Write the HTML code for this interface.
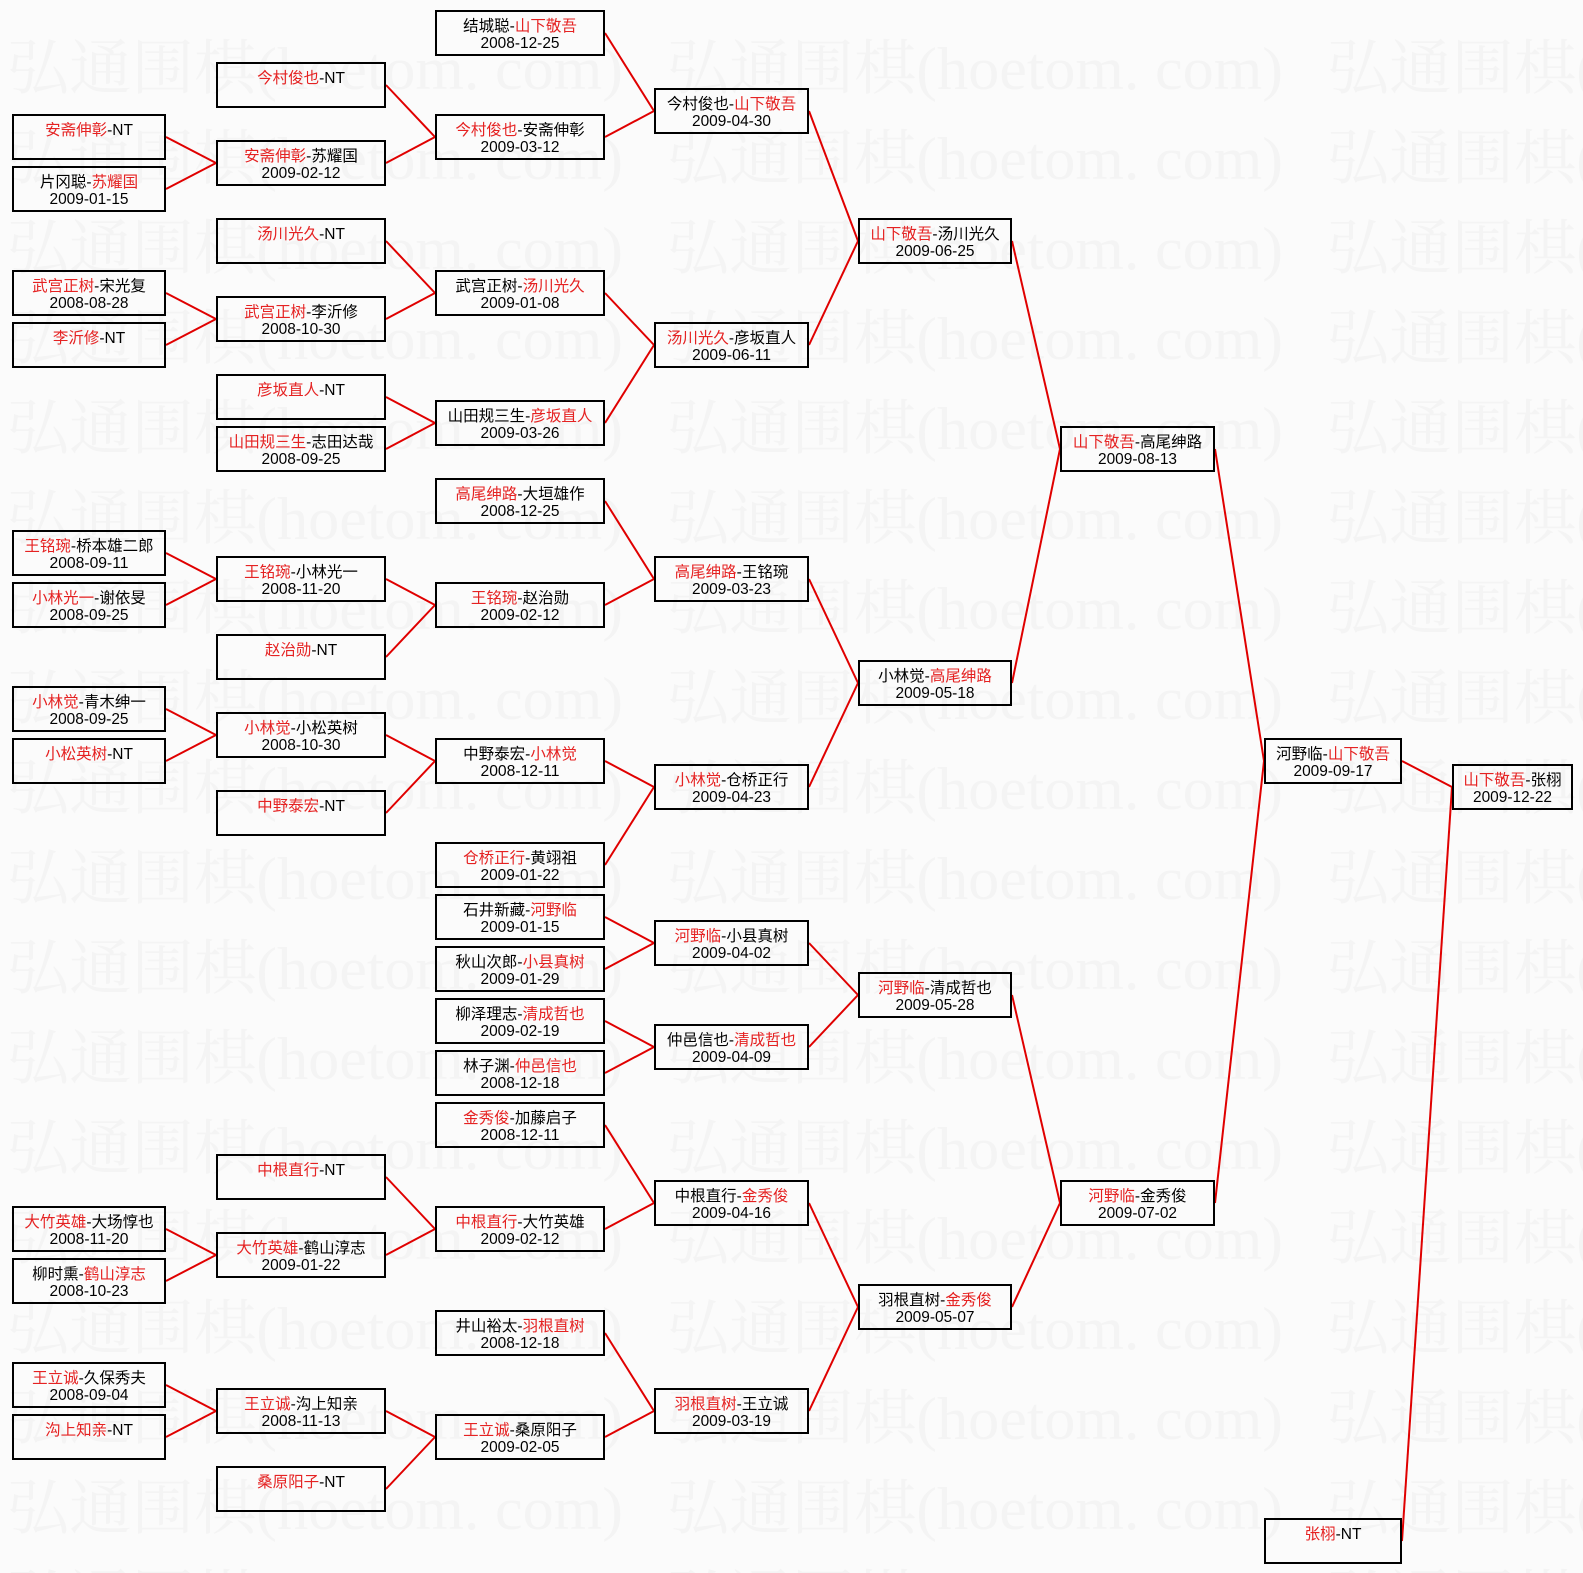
<!DOCTYPE html>
<html><head><meta charset="utf-8">
<style>
html,body{margin:0;padding:0;background:#fbfbfb;}
svg{display:block;}
.b{fill:none;stroke:#000;stroke-width:2;}
.l{stroke:#e00000;stroke-width:2;fill:none;}
.n{font-family:"Liberation Sans","Noto Sans CJK SC",sans-serif;font-size:15.5px;text-anchor:middle;fill:#000;}
.r{fill:#e52222;}
.d{font-family:"Liberation Sans",sans-serif;font-size:15.5px;text-anchor:middle;fill:#000;}
.w{font-family:"Liberation Serif","Noto Serif CJK SC",serif;font-size:60px;fill:#f4f4f4;}
</style></head>
<body>
<svg width="1583" height="1573" viewBox="0 0 1583 1573" xmlns="http://www.w3.org/2000/svg">
<rect x="0" y="0" width="1583" height="1573" fill="#fbfbfb"/>
<g class="w">
<text x="7" y="89" textLength="616" lengthAdjust="spacingAndGlyphs">弘通围棋(hoetom. com)</text><text x="667" y="89" textLength="616" lengthAdjust="spacingAndGlyphs">弘通围棋(hoetom. com)</text><text x="1327" y="89" textLength="616" lengthAdjust="spacingAndGlyphs">弘通围棋(hoetom. com)</text>
<text x="7" y="179" textLength="616" lengthAdjust="spacingAndGlyphs">弘通围棋(hoetom. com)</text><text x="667" y="179" textLength="616" lengthAdjust="spacingAndGlyphs">弘通围棋(hoetom. com)</text><text x="1327" y="179" textLength="616" lengthAdjust="spacingAndGlyphs">弘通围棋(hoetom. com)</text>
<text x="7" y="269" textLength="616" lengthAdjust="spacingAndGlyphs">弘通围棋(hoetom. com)</text><text x="667" y="269" textLength="616" lengthAdjust="spacingAndGlyphs">弘通围棋(hoetom. com)</text><text x="1327" y="269" textLength="616" lengthAdjust="spacingAndGlyphs">弘通围棋(hoetom. com)</text>
<text x="7" y="359" textLength="616" lengthAdjust="spacingAndGlyphs">弘通围棋(hoetom. com)</text><text x="667" y="359" textLength="616" lengthAdjust="spacingAndGlyphs">弘通围棋(hoetom. com)</text><text x="1327" y="359" textLength="616" lengthAdjust="spacingAndGlyphs">弘通围棋(hoetom. com)</text>
<text x="7" y="449" textLength="616" lengthAdjust="spacingAndGlyphs">弘通围棋(hoetom. com)</text><text x="667" y="449" textLength="616" lengthAdjust="spacingAndGlyphs">弘通围棋(hoetom. com)</text><text x="1327" y="449" textLength="616" lengthAdjust="spacingAndGlyphs">弘通围棋(hoetom. com)</text>
<text x="7" y="539" textLength="616" lengthAdjust="spacingAndGlyphs">弘通围棋(hoetom. com)</text><text x="667" y="539" textLength="616" lengthAdjust="spacingAndGlyphs">弘通围棋(hoetom. com)</text><text x="1327" y="539" textLength="616" lengthAdjust="spacingAndGlyphs">弘通围棋(hoetom. com)</text>
<text x="7" y="629" textLength="616" lengthAdjust="spacingAndGlyphs">弘通围棋(hoetom. com)</text><text x="667" y="629" textLength="616" lengthAdjust="spacingAndGlyphs">弘通围棋(hoetom. com)</text><text x="1327" y="629" textLength="616" lengthAdjust="spacingAndGlyphs">弘通围棋(hoetom. com)</text>
<text x="7" y="719" textLength="616" lengthAdjust="spacingAndGlyphs">弘通围棋(hoetom. com)</text><text x="667" y="719" textLength="616" lengthAdjust="spacingAndGlyphs">弘通围棋(hoetom. com)</text><text x="1327" y="719" textLength="616" lengthAdjust="spacingAndGlyphs">弘通围棋(hoetom. com)</text>
<text x="7" y="809" textLength="616" lengthAdjust="spacingAndGlyphs">弘通围棋(hoetom. com)</text><text x="667" y="809" textLength="616" lengthAdjust="spacingAndGlyphs">弘通围棋(hoetom. com)</text><text x="1327" y="809" textLength="616" lengthAdjust="spacingAndGlyphs">弘通围棋(hoetom. com)</text>
<text x="7" y="899" textLength="616" lengthAdjust="spacingAndGlyphs">弘通围棋(hoetom. com)</text><text x="667" y="899" textLength="616" lengthAdjust="spacingAndGlyphs">弘通围棋(hoetom. com)</text><text x="1327" y="899" textLength="616" lengthAdjust="spacingAndGlyphs">弘通围棋(hoetom. com)</text>
<text x="7" y="989" textLength="616" lengthAdjust="spacingAndGlyphs">弘通围棋(hoetom. com)</text><text x="667" y="989" textLength="616" lengthAdjust="spacingAndGlyphs">弘通围棋(hoetom. com)</text><text x="1327" y="989" textLength="616" lengthAdjust="spacingAndGlyphs">弘通围棋(hoetom. com)</text>
<text x="7" y="1079" textLength="616" lengthAdjust="spacingAndGlyphs">弘通围棋(hoetom. com)</text><text x="667" y="1079" textLength="616" lengthAdjust="spacingAndGlyphs">弘通围棋(hoetom. com)</text><text x="1327" y="1079" textLength="616" lengthAdjust="spacingAndGlyphs">弘通围棋(hoetom. com)</text>
<text x="7" y="1169" textLength="616" lengthAdjust="spacingAndGlyphs">弘通围棋(hoetom. com)</text><text x="667" y="1169" textLength="616" lengthAdjust="spacingAndGlyphs">弘通围棋(hoetom. com)</text><text x="1327" y="1169" textLength="616" lengthAdjust="spacingAndGlyphs">弘通围棋(hoetom. com)</text>
<text x="7" y="1259" textLength="616" lengthAdjust="spacingAndGlyphs">弘通围棋(hoetom. com)</text><text x="667" y="1259" textLength="616" lengthAdjust="spacingAndGlyphs">弘通围棋(hoetom. com)</text><text x="1327" y="1259" textLength="616" lengthAdjust="spacingAndGlyphs">弘通围棋(hoetom. com)</text>
<text x="7" y="1349" textLength="616" lengthAdjust="spacingAndGlyphs">弘通围棋(hoetom. com)</text><text x="667" y="1349" textLength="616" lengthAdjust="spacingAndGlyphs">弘通围棋(hoetom. com)</text><text x="1327" y="1349" textLength="616" lengthAdjust="spacingAndGlyphs">弘通围棋(hoetom. com)</text>
<text x="7" y="1439" textLength="616" lengthAdjust="spacingAndGlyphs">弘通围棋(hoetom. com)</text><text x="667" y="1439" textLength="616" lengthAdjust="spacingAndGlyphs">弘通围棋(hoetom. com)</text><text x="1327" y="1439" textLength="616" lengthAdjust="spacingAndGlyphs">弘通围棋(hoetom. com)</text>
<text x="7" y="1529" textLength="616" lengthAdjust="spacingAndGlyphs">弘通围棋(hoetom. com)</text><text x="667" y="1529" textLength="616" lengthAdjust="spacingAndGlyphs">弘通围棋(hoetom. com)</text><text x="1327" y="1529" textLength="616" lengthAdjust="spacingAndGlyphs">弘通围棋(hoetom. com)</text>
<text x="7" y="1619" textLength="616" lengthAdjust="spacingAndGlyphs">弘通围棋(hoetom. com)</text><text x="667" y="1619" textLength="616" lengthAdjust="spacingAndGlyphs">弘通围棋(hoetom. com)</text><text x="1327" y="1619" textLength="616" lengthAdjust="spacingAndGlyphs">弘通围棋(hoetom. com)</text>
</g>

<g class="l">
<line x1="166" y1="137" x2="216" y2="163"/><line x1="166" y1="189" x2="216" y2="163"/>
<line x1="166" y1="293" x2="216" y2="319"/><line x1="166" y1="345" x2="216" y2="319"/>
<line x1="166" y1="553" x2="216" y2="579"/><line x1="166" y1="605" x2="216" y2="579"/>
<line x1="166" y1="709" x2="216" y2="735"/><line x1="166" y1="761" x2="216" y2="735"/>
<line x1="166" y1="1229" x2="216" y2="1255"/><line x1="166" y1="1281" x2="216" y2="1255"/>
<line x1="166" y1="1385" x2="216" y2="1411"/><line x1="166" y1="1437" x2="216" y2="1411"/>
<line x1="386" y1="85" x2="435" y2="137"/><line x1="386" y1="163" x2="435" y2="137"/>
<line x1="386" y1="241" x2="435" y2="293"/><line x1="386" y1="319" x2="435" y2="293"/>
<line x1="386" y1="397" x2="435" y2="423"/><line x1="386" y1="449" x2="435" y2="423"/>
<line x1="386" y1="579" x2="435" y2="605"/><line x1="386" y1="657" x2="435" y2="605"/>
<line x1="386" y1="735" x2="435" y2="761"/><line x1="386" y1="813" x2="435" y2="761"/>
<line x1="386" y1="1177" x2="435" y2="1229"/><line x1="386" y1="1255" x2="435" y2="1229"/>
<line x1="386" y1="1411" x2="435" y2="1437"/><line x1="386" y1="1489" x2="435" y2="1437"/>
<line x1="605" y1="33" x2="654" y2="111"/><line x1="605" y1="137" x2="654" y2="111"/>
<line x1="605" y1="293" x2="654" y2="345"/><line x1="605" y1="423" x2="654" y2="345"/>
<line x1="605" y1="501" x2="654" y2="579"/><line x1="605" y1="605" x2="654" y2="579"/>
<line x1="605" y1="761" x2="654" y2="787"/><line x1="605" y1="865" x2="654" y2="787"/>
<line x1="605" y1="917" x2="654" y2="943"/><line x1="605" y1="969" x2="654" y2="943"/>
<line x1="605" y1="1021" x2="654" y2="1047"/><line x1="605" y1="1073" x2="654" y2="1047"/>
<line x1="605" y1="1125" x2="654" y2="1203"/><line x1="605" y1="1229" x2="654" y2="1203"/>
<line x1="605" y1="1333" x2="654" y2="1411"/><line x1="605" y1="1437" x2="654" y2="1411"/>
<line x1="809" y1="111" x2="858" y2="241"/><line x1="809" y1="345" x2="858" y2="241"/>
<line x1="809" y1="579" x2="858" y2="683"/><line x1="809" y1="787" x2="858" y2="683"/>
<line x1="809" y1="943" x2="858" y2="995"/><line x1="809" y1="1047" x2="858" y2="995"/>
<line x1="809" y1="1203" x2="858" y2="1307"/><line x1="809" y1="1411" x2="858" y2="1307"/>
<line x1="1012" y1="241" x2="1060" y2="449"/><line x1="1012" y1="683" x2="1060" y2="449"/>
<line x1="1012" y1="995" x2="1060" y2="1203"/><line x1="1012" y1="1307" x2="1060" y2="1203"/>
<line x1="1215" y1="449" x2="1264" y2="761"/><line x1="1215" y1="1203" x2="1264" y2="761"/>
<line x1="1402" y1="761" x2="1452" y2="787"/><line x1="1402" y1="1541" x2="1452" y2="787"/>
</g>

<!-- Column 1 -->
<rect class="b" x="13" y="115" width="152" height="44"/>
<text class="n" x="89" y="135"><tspan class="r">安斋伸彰</tspan>-NT</text>
<rect class="b" x="13" y="167" width="152" height="44"/>
<text class="n" x="89" y="187">片冈聪-<tspan class="r">苏耀国</tspan></text>
<text class="d" x="89" y="204" textLength="79" lengthAdjust="spacingAndGlyphs">2009-01-15</text>
<rect class="b" x="13" y="271" width="152" height="44"/>
<text class="n" x="89" y="291"><tspan class="r">武宫正树</tspan>-宋光复</text>
<text class="d" x="89" y="308" textLength="79" lengthAdjust="spacingAndGlyphs">2008-08-28</text>
<rect class="b" x="13" y="323" width="152" height="44"/>
<text class="n" x="89" y="343"><tspan class="r">李沂修</tspan>-NT</text>
<rect class="b" x="13" y="531" width="152" height="44"/>
<text class="n" x="89" y="551"><tspan class="r">王铭琬</tspan>-桥本雄二郎</text>
<text class="d" x="89" y="568" textLength="79" lengthAdjust="spacingAndGlyphs">2008-09-11</text>
<rect class="b" x="13" y="583" width="152" height="44"/>
<text class="n" x="89" y="603"><tspan class="r">小林光一</tspan>-谢依旻</text>
<text class="d" x="89" y="620" textLength="79" lengthAdjust="spacingAndGlyphs">2008-09-25</text>
<rect class="b" x="13" y="687" width="152" height="44"/>
<text class="n" x="89" y="707"><tspan class="r">小林觉</tspan>-青木绅一</text>
<text class="d" x="89" y="724" textLength="79" lengthAdjust="spacingAndGlyphs">2008-09-25</text>
<rect class="b" x="13" y="739" width="152" height="44"/>
<text class="n" x="89" y="759"><tspan class="r">小松英树</tspan>-NT</text>
<rect class="b" x="13" y="1207" width="152" height="44"/>
<text class="n" x="89" y="1227"><tspan class="r">大竹英雄</tspan>-大场惇也</text>
<text class="d" x="89" y="1244" textLength="79" lengthAdjust="spacingAndGlyphs">2008-11-20</text>
<rect class="b" x="13" y="1259" width="152" height="44"/>
<text class="n" x="89" y="1279">柳时熏-<tspan class="r">鹤山淳志</tspan></text>
<text class="d" x="89" y="1296" textLength="79" lengthAdjust="spacingAndGlyphs">2008-10-23</text>
<rect class="b" x="13" y="1363" width="152" height="44"/>
<text class="n" x="89" y="1383"><tspan class="r">王立诚</tspan>-久保秀夫</text>
<text class="d" x="89" y="1400" textLength="79" lengthAdjust="spacingAndGlyphs">2008-09-04</text>
<rect class="b" x="13" y="1415" width="152" height="44"/>
<text class="n" x="89" y="1435"><tspan class="r">沟上知亲</tspan>-NT</text>

<!-- Column 2 -->
<rect class="b" x="217" y="63" width="168" height="44"/>
<text class="n" x="301" y="83"><tspan class="r">今村俊也</tspan>-NT</text>
<rect class="b" x="217" y="141" width="168" height="44"/>
<text class="n" x="301" y="161"><tspan class="r">安斋伸彰</tspan>-苏耀国</text>
<text class="d" x="301" y="178" textLength="79" lengthAdjust="spacingAndGlyphs">2009-02-12</text>
<rect class="b" x="217" y="219" width="168" height="44"/>
<text class="n" x="301" y="239"><tspan class="r">汤川光久</tspan>-NT</text>
<rect class="b" x="217" y="297" width="168" height="44"/>
<text class="n" x="301" y="317"><tspan class="r">武宫正树</tspan>-李沂修</text>
<text class="d" x="301" y="334" textLength="79" lengthAdjust="spacingAndGlyphs">2008-10-30</text>
<rect class="b" x="217" y="375" width="168" height="44"/>
<text class="n" x="301" y="395"><tspan class="r">彦坂直人</tspan>-NT</text>
<rect class="b" x="217" y="427" width="168" height="44"/>
<text class="n" x="301" y="447"><tspan class="r">山田规三生</tspan>-志田达哉</text>
<text class="d" x="301" y="464" textLength="79" lengthAdjust="spacingAndGlyphs">2008-09-25</text>
<rect class="b" x="217" y="557" width="168" height="44"/>
<text class="n" x="301" y="577"><tspan class="r">王铭琬</tspan>-小林光一</text>
<text class="d" x="301" y="594" textLength="79" lengthAdjust="spacingAndGlyphs">2008-11-20</text>
<rect class="b" x="217" y="635" width="168" height="44"/>
<text class="n" x="301" y="655"><tspan class="r">赵治勋</tspan>-NT</text>
<rect class="b" x="217" y="713" width="168" height="44"/>
<text class="n" x="301" y="733"><tspan class="r">小林觉</tspan>-小松英树</text>
<text class="d" x="301" y="750" textLength="79" lengthAdjust="spacingAndGlyphs">2008-10-30</text>
<rect class="b" x="217" y="791" width="168" height="44"/>
<text class="n" x="301" y="811"><tspan class="r">中野泰宏</tspan>-NT</text>
<rect class="b" x="217" y="1155" width="168" height="44"/>
<text class="n" x="301" y="1175"><tspan class="r">中根直行</tspan>-NT</text>
<rect class="b" x="217" y="1233" width="168" height="44"/>
<text class="n" x="301" y="1253"><tspan class="r">大竹英雄</tspan>-鹤山淳志</text>
<text class="d" x="301" y="1270" textLength="79" lengthAdjust="spacingAndGlyphs">2009-01-22</text>
<rect class="b" x="217" y="1389" width="168" height="44"/>
<text class="n" x="301" y="1409"><tspan class="r">王立诚</tspan>-沟上知亲</text>
<text class="d" x="301" y="1426" textLength="79" lengthAdjust="spacingAndGlyphs">2008-11-13</text>
<rect class="b" x="217" y="1467" width="168" height="44"/>
<text class="n" x="301" y="1487"><tspan class="r">桑原阳子</tspan>-NT</text>

<!-- Column 3 -->
<rect class="b" x="436" y="11" width="168" height="44"/>
<text class="n" x="520" y="31">结城聪-<tspan class="r">山下敬吾</tspan></text>
<text class="d" x="520" y="48" textLength="79" lengthAdjust="spacingAndGlyphs">2008-12-25</text>
<rect class="b" x="436" y="115" width="168" height="44"/>
<text class="n" x="520" y="135"><tspan class="r">今村俊也</tspan>-安斋伸彰</text>
<text class="d" x="520" y="152" textLength="79" lengthAdjust="spacingAndGlyphs">2009-03-12</text>
<rect class="b" x="436" y="271" width="168" height="44"/>
<text class="n" x="520" y="291">武宫正树-<tspan class="r">汤川光久</tspan></text>
<text class="d" x="520" y="308" textLength="79" lengthAdjust="spacingAndGlyphs">2009-01-08</text>
<rect class="b" x="436" y="401" width="168" height="44"/>
<text class="n" x="520" y="421">山田规三生-<tspan class="r">彦坂直人</tspan></text>
<text class="d" x="520" y="438" textLength="79" lengthAdjust="spacingAndGlyphs">2009-03-26</text>
<rect class="b" x="436" y="479" width="168" height="44"/>
<text class="n" x="520" y="499"><tspan class="r">高尾绅路</tspan>-大垣雄作</text>
<text class="d" x="520" y="516" textLength="79" lengthAdjust="spacingAndGlyphs">2008-12-25</text>
<rect class="b" x="436" y="583" width="168" height="44"/>
<text class="n" x="520" y="603"><tspan class="r">王铭琬</tspan>-赵治勋</text>
<text class="d" x="520" y="620" textLength="79" lengthAdjust="spacingAndGlyphs">2009-02-12</text>
<rect class="b" x="436" y="739" width="168" height="44"/>
<text class="n" x="520" y="759">中野泰宏-<tspan class="r">小林觉</tspan></text>
<text class="d" x="520" y="776" textLength="79" lengthAdjust="spacingAndGlyphs">2008-12-11</text>
<rect class="b" x="436" y="843" width="168" height="44"/>
<text class="n" x="520" y="863"><tspan class="r">仓桥正行</tspan>-黄翊祖</text>
<text class="d" x="520" y="880" textLength="79" lengthAdjust="spacingAndGlyphs">2009-01-22</text>
<rect class="b" x="436" y="895" width="168" height="44"/>
<text class="n" x="520" y="915">石井新藏-<tspan class="r">河野临</tspan></text>
<text class="d" x="520" y="932" textLength="79" lengthAdjust="spacingAndGlyphs">2009-01-15</text>
<rect class="b" x="436" y="947" width="168" height="44"/>
<text class="n" x="520" y="967">秋山次郎-<tspan class="r">小县真树</tspan></text>
<text class="d" x="520" y="984" textLength="79" lengthAdjust="spacingAndGlyphs">2009-01-29</text>
<rect class="b" x="436" y="999" width="168" height="44"/>
<text class="n" x="520" y="1019">柳泽理志-<tspan class="r">清成哲也</tspan></text>
<text class="d" x="520" y="1036" textLength="79" lengthAdjust="spacingAndGlyphs">2009-02-19</text>
<rect class="b" x="436" y="1051" width="168" height="44"/>
<text class="n" x="520" y="1071">林子渊-<tspan class="r">仲邑信也</tspan></text>
<text class="d" x="520" y="1088" textLength="79" lengthAdjust="spacingAndGlyphs">2008-12-18</text>
<rect class="b" x="436" y="1103" width="168" height="44"/>
<text class="n" x="520" y="1123"><tspan class="r">金秀俊</tspan>-加藤启子</text>
<text class="d" x="520" y="1140" textLength="79" lengthAdjust="spacingAndGlyphs">2008-12-11</text>
<rect class="b" x="436" y="1207" width="168" height="44"/>
<text class="n" x="520" y="1227"><tspan class="r">中根直行</tspan>-大竹英雄</text>
<text class="d" x="520" y="1244" textLength="79" lengthAdjust="spacingAndGlyphs">2009-02-12</text>
<rect class="b" x="436" y="1311" width="168" height="44"/>
<text class="n" x="520" y="1331">井山裕太-<tspan class="r">羽根直树</tspan></text>
<text class="d" x="520" y="1348" textLength="79" lengthAdjust="spacingAndGlyphs">2008-12-18</text>
<rect class="b" x="436" y="1415" width="168" height="44"/>
<text class="n" x="520" y="1435"><tspan class="r">王立诚</tspan>-桑原阳子</text>
<text class="d" x="520" y="1452" textLength="79" lengthAdjust="spacingAndGlyphs">2009-02-05</text>

<!-- Column 4 -->
<rect class="b" x="655" y="89" width="153" height="44"/>
<text class="n" x="731.5" y="109">今村俊也-<tspan class="r">山下敬吾</tspan></text>
<text class="d" x="731.5" y="126" textLength="79" lengthAdjust="spacingAndGlyphs">2009-04-30</text>
<rect class="b" x="655" y="323" width="153" height="44"/>
<text class="n" x="731.5" y="343"><tspan class="r">汤川光久</tspan>-彦坂直人</text>
<text class="d" x="731.5" y="360" textLength="79" lengthAdjust="spacingAndGlyphs">2009-06-11</text>
<rect class="b" x="655" y="557" width="153" height="44"/>
<text class="n" x="731.5" y="577"><tspan class="r">高尾绅路</tspan>-王铭琬</text>
<text class="d" x="731.5" y="594" textLength="79" lengthAdjust="spacingAndGlyphs">2009-03-23</text>
<rect class="b" x="655" y="765" width="153" height="44"/>
<text class="n" x="731.5" y="785"><tspan class="r">小林觉</tspan>-仓桥正行</text>
<text class="d" x="731.5" y="802" textLength="79" lengthAdjust="spacingAndGlyphs">2009-04-23</text>
<rect class="b" x="655" y="921" width="153" height="44"/>
<text class="n" x="731.5" y="941"><tspan class="r">河野临</tspan>-小县真树</text>
<text class="d" x="731.5" y="958" textLength="79" lengthAdjust="spacingAndGlyphs">2009-04-02</text>
<rect class="b" x="655" y="1025" width="153" height="44"/>
<text class="n" x="731.5" y="1045">仲邑信也-<tspan class="r">清成哲也</tspan></text>
<text class="d" x="731.5" y="1062" textLength="79" lengthAdjust="spacingAndGlyphs">2009-04-09</text>
<rect class="b" x="655" y="1181" width="153" height="44"/>
<text class="n" x="731.5" y="1201">中根直行-<tspan class="r">金秀俊</tspan></text>
<text class="d" x="731.5" y="1218" textLength="79" lengthAdjust="spacingAndGlyphs">2009-04-16</text>
<rect class="b" x="655" y="1389" width="153" height="44"/>
<text class="n" x="731.5" y="1409"><tspan class="r">羽根直树</tspan>-王立诚</text>
<text class="d" x="731.5" y="1426" textLength="79" lengthAdjust="spacingAndGlyphs">2009-03-19</text>

<!-- Column 5 -->
<rect class="b" x="859" y="219" width="152" height="44"/>
<text class="n" x="935" y="239"><tspan class="r">山下敬吾</tspan>-汤川光久</text>
<text class="d" x="935" y="256" textLength="79" lengthAdjust="spacingAndGlyphs">2009-06-25</text>
<rect class="b" x="859" y="661" width="152" height="44"/>
<text class="n" x="935" y="681">小林觉-<tspan class="r">高尾绅路</tspan></text>
<text class="d" x="935" y="698" textLength="79" lengthAdjust="spacingAndGlyphs">2009-05-18</text>
<rect class="b" x="859" y="973" width="152" height="44"/>
<text class="n" x="935" y="993"><tspan class="r">河野临</tspan>-清成哲也</text>
<text class="d" x="935" y="1010" textLength="79" lengthAdjust="spacingAndGlyphs">2009-05-28</text>
<rect class="b" x="859" y="1285" width="152" height="44"/>
<text class="n" x="935" y="1305">羽根直树-<tspan class="r">金秀俊</tspan></text>
<text class="d" x="935" y="1322" textLength="79" lengthAdjust="spacingAndGlyphs">2009-05-07</text>

<!-- Column 6 -->
<rect class="b" x="1061" y="427" width="153" height="44"/>
<text class="n" x="1137.5" y="447"><tspan class="r">山下敬吾</tspan>-高尾绅路</text>
<text class="d" x="1137.5" y="464" textLength="79" lengthAdjust="spacingAndGlyphs">2009-08-13</text>
<rect class="b" x="1061" y="1181" width="153" height="44"/>
<text class="n" x="1137.5" y="1201"><tspan class="r">河野临</tspan>-金秀俊</text>
<text class="d" x="1137.5" y="1218" textLength="79" lengthAdjust="spacingAndGlyphs">2009-07-02</text>

<!-- Column 7 -->
<rect class="b" x="1265" y="739" width="136" height="44"/>
<text class="n" x="1333" y="759">河野临-<tspan class="r">山下敬吾</tspan></text>
<text class="d" x="1333" y="776" textLength="79" lengthAdjust="spacingAndGlyphs">2009-09-17</text>
<rect class="b" x="1265" y="1519" width="136" height="44"/>
<text class="n" x="1333" y="1539"><tspan class="r">张栩</tspan>-NT</text>

<!-- Column 8 -->
<rect class="b" x="1453" y="765" width="119" height="44"/>
<text class="n" x="1512.5" y="785"><tspan class="r">山下敬吾</tspan>-张栩</text>
<text class="d" x="1512.5" y="802" textLength="79" lengthAdjust="spacingAndGlyphs">2009-12-22</text>
</svg>
</body></html>
